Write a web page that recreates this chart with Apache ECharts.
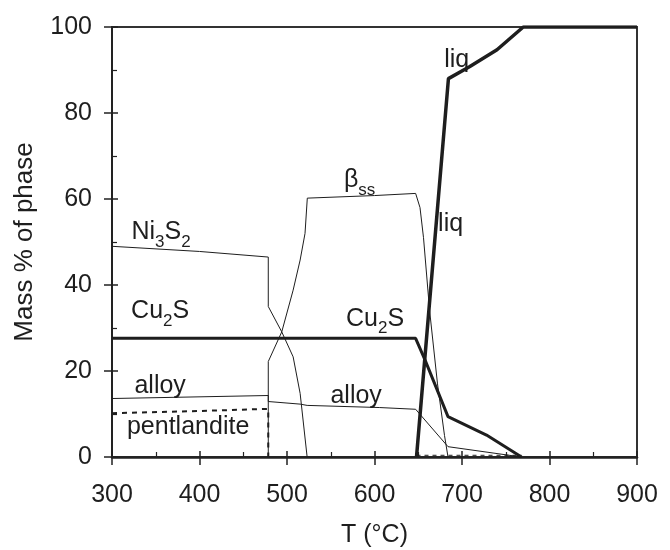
<!DOCTYPE html>
<html>
<head>
<meta charset="utf-8">
<script src="https://cdn.jsdelivr.net/npm/echarts@6/dist/echarts.min.js"></script>
<style>
  html, body { margin: 0; padding: 0; background: #fff; }
  #chart { width: 670px; height: 550px; }
</style>
</head>
<body>
<div id="chart"></div>
<script>
// temperature (°C) / mass % pairs
const ni3s2 = [[300, 49], [400, 47.8], [478.6, 46.5], [478.6, 35], [494, 29.1], [507, 23.3], [515, 14.8], [523, 0]]
const betaSs = [[478.6, 0], [478.6, 22.2], [494, 29.1], [507, 38.8], [515, 45.8], [520.6, 52], [523.2, 60.2], [600, 60.8], [647, 61.3], [652, 58], [656, 51], [663, 34], [672, 17], [680, 5], [684, 0]]
const cu2s = [[300, 27.6], [647, 27.6], [657.7, 22.6], [684, 9.4], [728, 5.1], [768, 0]]
const alloy = [[300, 13.6], [478.6, 14.3], [478.6, 12.9], [515, 12.3], [523, 12], [606, 11.5], [647, 11.1], [684, 2.4], [768, 0]]
const pentlandite = [[300, 10.2], [400, 10.7], [478.6, 11.2], [478.6, 0]]
const trace = [[648, 0.4], [768, 0.4]]
const liq = [[648, 0], [684.5, 88], [709, 90.8], [740, 94.7], [770, 100], [900, 100]]

// phase labels: text, T, mass %
const labels = [
  ['{t|Ni}{s|3}{t|S}{s|2}', 356, 52],
  ['{t|Cu}{s|2}{t|S}', 355, 33.6],
  ['{t|alloy}', 355, 16.1],
  ['{t|pentlandite}', 387, 6.5],
  ['{t|β}{s|ss}', 583, 64],
  ['{t|liq}', 687, 53.7],
  ['{t|Cu}{s|2}{t|S}', 600.6, 31.8],
  ['{t|alloy}', 579, 13.7],
  ['{t|liq}', 694, 92]
]

const font = 'Liberation Sans, Arial, sans-serif'
const ink = '#1e1e1e'

let myChart = echarts.init(document.getElementById('chart'))

function line(name, data, width, type) {
  return {
    name: name,
    type: 'line',
    data: data,
    showSymbol: false,
    symbol: 'none',
    silent: true,
    lineStyle: { color: ink, width: width, type: type || 'solid' },
    z: width > 2.5 ? 4 : 3
  }
}

let series = [
  line('Ni3S2', ni3s2, 1),
  line('bss', betaSs, 1),
  line('alloy', alloy, 1),
  line('pentlandite', pentlandite, 2, [5, 5]),
  line('trace', trace, 1, [4, 4]),
  line('Cu2S', cu2s, 3),
  line('liq', liq, 3.5)
]

series[5].markPoint = {
  symbol: 'circle',
  symbolSize: 1,
  itemStyle: { color: 'transparent' },
  label: {
    show: true,
    position: 'inside',
    formatter: '{b}',
    rich: {
      t: { fontSize: 25, fontFamily: font, color: ink, lineHeight: 28, verticalAlign: 'top' },
      s: { fontSize: 17, fontFamily: font, color: ink, lineHeight: 17, padding: [14, 0, 0, 0], verticalAlign: 'top' }
    }
  },
  data: labels.map(function (l) {
    return { name: l[0], coord: [l[1], l[2]] }
  })
}

myChart.setOption({
  animation: false,
  grid: {
    left: 112, right: 33, top: 27, bottom: 93,
    outerBoundsMode: 'none', containLabel: false,
    show: true, borderColor: '#333', borderWidth: 2
  },
  xAxis: [{
    type: 'value', min: 300, max: 900, interval: 100,
    name: 'T (°C)', nameLocation: 'middle', nameGap: 66,
    nameTextStyle: { fontSize: 25, fontFamily: font, color: ink },
    axisLine: { lineStyle: { color: '#222', width: 2.5 } },
    axisTick: { length: 8, lineStyle: { color: '#222', width: 1.5 } },
    axisLabel: { fontSize: 25, fontFamily: font, color: ink, margin: 26 },
    splitLine: { show: false }
  }, {
    type: 'value', min: 300, max: 900, interval: 100, position: 'bottom',
    axisLine: { show: false },
    axisTick: { inside: true, length: 6, lineStyle: { color: '#222', width: 1.5 } },
    minorTick: { show: true, splitNumber: 2, length: 5, lineStyle: { color: '#222', width: 1.2 } },
    axisLabel: { show: false },
    splitLine: { show: false }
  }],
  yAxis: [{
    type: 'value', min: 0, max: 100, interval: 20,
    name: 'Mass % of phase', nameLocation: 'middle', nameGap: 74,
    nameTextStyle: { fontSize: 26, fontFamily: font, color: ink },
    axisLine: { show: true, lineStyle: { color: '#222', width: 2 } },
    axisTick: { show: true, length: 8, lineStyle: { color: '#222', width: 1.5 } },
    axisLabel: { fontSize: 25, fontFamily: font, color: ink, margin: 20 },
    splitLine: { show: false }
  }, {
    type: 'value', min: 0, max: 100, interval: 20, position: 'left',
    axisLine: { show: false },
    axisTick: { show: true, inside: true, length: 6, lineStyle: { color: '#222', width: 1.5 } },
    minorTick: { show: true, splitNumber: 2, length: 5, lineStyle: { color: '#222', width: 1.2 } },
    axisLabel: { show: false },
    splitLine: { show: false }
  }],
  series: series
})
</script>
</body>
</html>
